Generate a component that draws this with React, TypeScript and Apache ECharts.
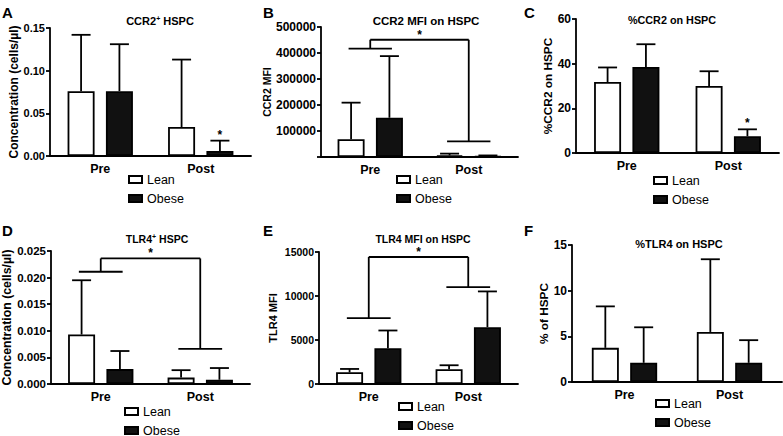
import React, { useEffect, useRef } from "react";
import * as echarts from "echarts";

const categories = ["Pre", "Post"];
const seriesNames = ["Lean", "Obese"];

// Panel A: CCR2+ HSPC (cells/µl)
const aLeanMean = [0.076, 0.034];
const aLeanSD = [0.066, 0.079];
const aObeseMean = [0.076, 0.006];
const aObeseSD = [0.055, 0.012];
const aObeseSig = [0, 1];

// Panel B: CCR2 MFI on HSPC
const bLeanMean = [68000, 6000];
const bLeanSD = [141000, 7000];
const bObeseMean = [151000, 3000];
const bObeseSD = [237000, 3000];
const bBracket = [417000, 60000, 451000]; // pre line, post line, top

// Panel C: %CCR2 on HSPC
const cLeanMean = [31.8, 30.0];
const cLeanSD = [6.5, 6.6];
const cObeseMean = [38.5, 7.5];
const cObeseSD = [10.2, 3.1];
const cObeseSig = [0, 1];

// Panel D: TLR4+ HSPC (cells/µl)
const dLeanMean = [0.0093, 0.0012];
const dLeanSD = [0.0102, 0.0014];
const dObeseMean = [0.0028, 0.0008];
const dObeseSD = [0.0034, 0.0022];
const dBracket = [0.0211, 0.0066, 0.0236];

// Panel E: TLR4 MFI on HSPC
const eLeanMean = [1330, 1670];
const eLeanSD = [380, 460];
const eObeseMean = [4060, 6460];
const eObeseSD = [2020, 4060];
const eBracket = [7480, 11010, 14430];

// Panel F: %TLR4 on HSPC
const fLeanMean = [3.74, 5.48];
const fLeanSD = [4.54, 7.96];
const fObeseMean = [2.1, 2.1];
const fObeseSD = [3.89, 2.48];

const FONT = "Liberation Sans, Arial, Helvetica, sans-serif";
const BAR_W = 27;
const BAR_GAP = 0.42;
const OFFSET = (BAR_W * (1 + BAR_GAP)) / 2;
const CAP = 9.5;
const LW = 1.8;

type Panel = {
  letter: string;
  letterPos: [number, number];
  title: string;
  titleSize: number;
  titlePos: [number, number];
  grid: { left: number; top: number; width: number; height: number };
  max: number;
  interval: number;
  fmt: (v: number) => string;
  tickSize: number;
  yName: string;
  yNameSize: number;
  yNameGap: number;
  lean: number[];
  leanSD: number[];
  obese: number[];
  obeseSD: number[];
  obeseSig?: number[];
  bracket?: number[];
  legendPos: [number, number];
};

const panels: Panel[] = [
  {
    letter: "A", letterPos: [2, 5], title: "CCR2{sup|+} HSPC", titleSize: 11, titlePos: [155, 10],
    grid: { left: 50, top: 28, width: 201, height: 128 }, max: 0.15, interval: 0.05,
    fmt: (v) => v.toFixed(2), tickSize: 11, yName: "Concentration (cells/µl)", yNameSize: 12, yNameGap: 28,
    lean: aLeanMean, leanSD: aLeanSD, obese: aObeseMean, obeseSD: aObeseSD, obeseSig: aObeseSig,
    legendPos: [128, 173],
  },
  {
    letter: "B", letterPos: [263, 5], title: "CCR2 MFI on HSPC", titleSize: 11.5, titlePos: [421, 10],
    grid: { left: 321, top: 27, width: 197, height: 130 }, max: 500000, interval: 100000,
    fmt: (v) => (v === 0 ? "" : String(v)), tickSize: 12, yName: "CCR2 MFI", yNameSize: 10.5, yNameGap: 46,
    lean: bLeanMean, leanSD: bLeanSD, obese: bObeseMean, obeseSD: bObeseSD, bracket: bBracket,
    legendPos: [396, 173],
  },
  {
    letter: "C", letterPos: [524, 5], title: "%CCR2 on HSPC", titleSize: 10.8, titlePos: [667, 9],
    grid: { left: 576, top: 19, width: 203, height: 134 }, max: 60, interval: 20,
    fmt: (v) => String(v), tickSize: 12, yName: "%CCR2 on HSPC", yNameSize: 11.8, yNameGap: 21,
    lean: cLeanMean, leanSD: cLeanSD, obese: cObeseMean, obeseSD: cObeseSD, obeseSig: cObeseSig,
    legendPos: [653, 174],
  },
  {
    letter: "D", letterPos: [2, 223], title: "TLR4{sup|+} HSPC", titleSize: 10.5, titlePos: [152, 228],
    grid: { left: 50, top: 251, width: 200, height: 133 }, max: 0.025, interval: 0.005,
    fmt: (v) => v.toFixed(3), tickSize: 11.5, yName: "Concentration (cells/µl)", yNameSize: 12.3, yNameGap: 38,
    lean: dLeanMean, leanSD: dLeanSD, obese: dObeseMean, obeseSD: dObeseSD, bracket: dBracket,
    legendPos: [124, 405],
  },
  {
    letter: "E", letterPos: [263, 223], title: "TLR4 MFI on HSPC", titleSize: 10.5, titlePos: [418, 228],
    grid: { left: 319, top: 252, width: 199, height: 132 }, max: 15000, interval: 5000,
    fmt: (v) => String(v), tickSize: 10.5, yName: "TLR4 MFI", yNameSize: 11, yNameGap: 41,
    lean: eLeanMean, leanSD: eLeanSD, obese: eObeseMean, obeseSD: eObeseSD, bracket: eBracket,
    legendPos: [398, 400],
  },
  {
    letter: "F", letterPos: [524, 223], title: "%TLR4 on HSPC", titleSize: 11, titlePos: [674, 233],
    grid: { left: 572, top: 245, width: 210, height: 137 }, max: 15, interval: 5,
    fmt: (v) => String(v), tickSize: 12, yName: "% of HSPC", yNameSize: 11.8, yNameGap: 20,
    lean: fLeanMean, leanSD: fLeanSD, obese: fObeseMean, obeseSD: fObeseSD,
    legendPos: [655, 397],
  },
];

function errorRender(params: any, api: any) {
  const cat = api.value(0);
  const mean = api.value(1);
  const sd = api.value(2);
  const side = api.value(3);
  const sig = api.value(4);
  const base = api.coord([cat, mean]);
  const top = api.coord([cat, mean + sd]);
  const x = base[0] + side * OFFSET;
  const st = { stroke: "#000", lineWidth: LW };
  const children: any[] = [
    { type: "line", shape: { x1: x, y1: base[1], x2: x, y2: top[1] }, style: st },
    { type: "line", shape: { x1: x - CAP, y1: top[1], x2: x + CAP, y2: top[1] }, style: st },
  ];
  if (sig) {
    children.push({
      type: "text",
      x,
      y: top[1] - 6,
      style: { text: "*", fill: "#000", font: `bold 12px ${FONT}`, align: "center", verticalAlign: "middle" },
    });
  }
  return { type: "group", children };
}

function bracketRender(params: any, api: any) {
  const pre = api.value(1);
  const post = api.value(2);
  const topV = api.value(3);
  const a = api.coord([0, pre]);
  const b = api.coord([1, post]);
  const t = api.coord([0, topV]);
  const band = api.size([1, 0])[0];
  const hw = band * 0.22;
  const st = { stroke: "#000", lineWidth: LW };
  return {
    type: "group",
    children: [
      { type: "line", shape: { x1: a[0] - hw, y1: a[1], x2: a[0] + hw, y2: a[1] }, style: st },
      { type: "line", shape: { x1: a[0], y1: a[1], x2: a[0], y2: t[1] }, style: st },
      { type: "line", shape: { x1: a[0], y1: t[1], x2: b[0], y2: t[1] }, style: st },
      { type: "line", shape: { x1: b[0], y1: t[1], x2: b[0], y2: b[1] }, style: st },
      { type: "line", shape: { x1: b[0] - hw, y1: b[1], x2: b[0] + hw, y2: b[1] }, style: st },
      {
        type: "text",
        x: (a[0] + b[0]) / 2,
        y: t[1] - 5,
        style: { text: "*", fill: "#000", font: `bold 12px ${FONT}`, align: "center", verticalAlign: "middle" },
      },
    ],
  };
}

function buildOption() {
  const grid: any[] = [];
  const xAxis: any[] = [];
  const yAxis: any[] = [];
  const series: any[] = [];
  const legend: any[] = [];
  const title: any[] = [];
  const graphic: any[] = [];

  panels.forEach((p, i) => {
    grid.push({ ...p.grid, containLabel: false });
    xAxis.push({
      type: "category",
      gridIndex: i,
      data: categories,
      axisLine: { lineStyle: { color: "#000", width: LW } },
      axisTick: { alignWithLabel: true, length: 4, lineStyle: { color: "#000", width: LW } },
      axisLabel: { color: "#000", fontWeight: "bold", fontSize: 12.5, fontFamily: FONT, margin: 6 },
    });
    yAxis.push({
      type: "value",
      gridIndex: i,
      min: 0,
      max: p.max,
      interval: p.interval,
      splitLine: { show: false },
      axisLine: { show: true, lineStyle: { color: "#000", width: LW } },
      axisTick: { show: true, length: 4, lineStyle: { color: "#000", width: LW } },
      axisLabel: {
        color: "#000", fontWeight: "bold", fontSize: p.tickSize, fontFamily: FONT, margin: 5,
        formatter: p.fmt,
      },
      name: p.yName,
      nameLocation: "middle",
      nameGap: p.yNameGap,
      nameTextStyle: { color: "#000", fontWeight: "bold", fontSize: p.yNameSize, fontFamily: FONT },
    });
    series.push({
      type: "bar",
      name: seriesNames[0],
      xAxisIndex: i,
      yAxisIndex: i,
      data: p.lean,
      barWidth: BAR_W,
      barGap: `${BAR_GAP * 100}%`,
      itemStyle: { color: "#fff", borderColor: "#000", borderWidth: LW },
    });
    series.push({
      type: "bar",
      name: seriesNames[1],
      xAxisIndex: i,
      yAxisIndex: i,
      data: p.obese,
      barWidth: BAR_W,
      barGap: `${BAR_GAP * 100}%`,
      itemStyle: { color: "#111", borderColor: "#000", borderWidth: LW },
    });
    const errData: any[] = [];
    categories.forEach((_, ci) => {
      errData.push([ci, p.lean[ci], p.leanSD[ci], -1, 0]);
      errData.push([ci, p.obese[ci], p.obeseSD[ci], 1, p.obeseSig ? p.obeseSig[ci] : 0]);
    });
    series.push({
      type: "custom",
      name: "err" + i,
      xAxisIndex: i,
      yAxisIndex: i,
      data: errData,
      encode: { x: 0, y: 1 },
      renderItem: errorRender,
      clip: false,
      z: 5,
    });
    if (p.bracket) {
      series.push({
        type: "custom",
        name: "sig" + i,
        xAxisIndex: i,
        yAxisIndex: i,
        data: [[0, p.bracket[0], p.bracket[1], p.bracket[2]]],
        encode: { x: 0, y: 1 },
        renderItem: bracketRender,
        clip: false,
        z: 5,
      });
    }
    legend.push({
      data: seriesNames,
      orient: "vertical",
      left: p.legendPos[0],
      top: p.legendPos[1],
      height: 50,
      padding: 0,
      icon: "rect",
      itemWidth: 13,
      itemHeight: 7,
      itemGap: 6,
      selectedMode: false,
      textStyle: { color: "#000", fontSize: 12.5, fontFamily: FONT },
    });
    title.push({
      text: p.title,
      left: p.titlePos[0],
      top: p.titlePos[1],
      textAlign: "center",
      textStyle: {
        color: "#000", fontWeight: "bold", fontSize: p.titleSize, fontFamily: FONT,
        rich: {
          sup: { fontSize: 7, fontWeight: "bold", fontFamily: FONT, color: "#000", verticalAlign: "top", padding: [0, 0, 5, 0] },
        },
      },
    });
    graphic.push({
      type: "text",
      left: p.letterPos[0],
      top: p.letterPos[1],
      style: { text: p.letter, fill: "#000", font: `bold 15px ${FONT}` },
    });
  });

  return { animation: false, backgroundColor: "#fff", grid, xAxis, yAxis, series, legend, title, graphic };
}

export default function App() {
  const ref = useRef<HTMLDivElement>(null);
  useEffect(() => {
    if (!ref.current) return;
    const chart = echarts.init(ref.current, null, { renderer: "svg" });
    chart.setOption(buildOption() as any);
    return () => chart.dispose();
  }, []);
  return (
    <div
      ref={ref}
      style={{ position: "fixed", left: 0, top: 0, width: 783, height: 436, background: "#fff" }}
    />
  );
}
